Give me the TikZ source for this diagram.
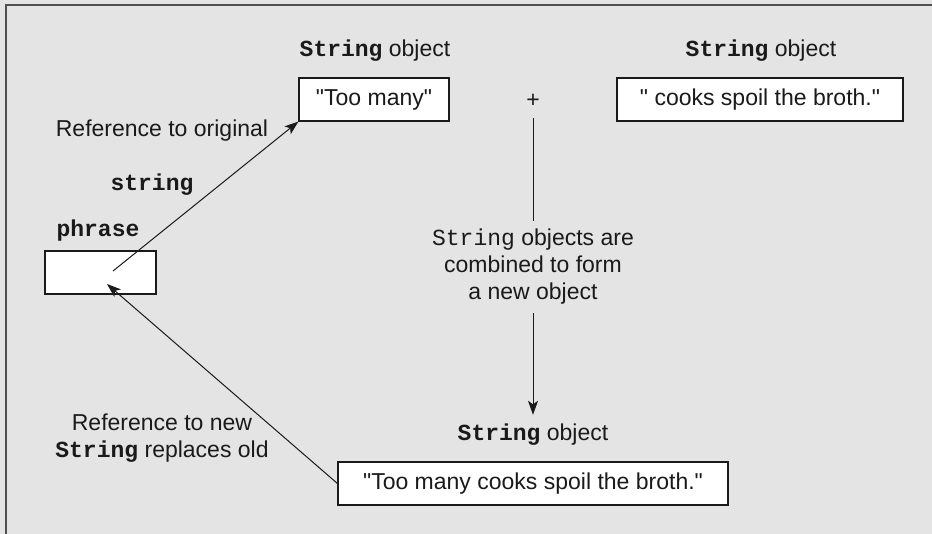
\documentclass[tikz,border=0pt]{standalone}
\usepackage{fontspec}
\setmainfont[Ligatures=TeXReset]{Liberation Sans}
\newfontfamily\monofont{Liberation Mono}
\usetikzlibrary{arrows.meta}
\definecolor{bgc}{HTML}{E4E4E4}
\definecolor{framec}{HTML}{505050}
\definecolor{inkc}{HTML}{1A1A1A}
\newcommand{\mb}[1]{{\monofont\bfseries #1}}
\newcommand{\mr}[1]{{\monofont #1}}
\newcommand{\dq}{\symbol{34}}
\begin{document}
\begin{tikzpicture}[x=1pt,y=-1pt,
  every node/.style={font=\fontsize{23}{27}\selectfont, text=inkc, inner sep=0pt},
  objbox/.style={draw=inkc, fill=white, line width=1.1pt, minimum height=43pt},
  conn/.style={draw=inkc, line width=1pt},
  arr/.style={conn, -{Stealth[length=14pt,width=10pt,inset=3.5pt]}}]
\useasboundingbox (0,0) rectangle (932,534);
\fill[bgc] (0,0) rectangle (932,534);
\draw[framec, line width=2.2pt] (6,534) -- (6,5) -- (932,5);

% top labels
\node (lab1) at (375,51) {\mb{String} object};
\node (lab2) at (761,51) {\mb{String} object};

% boxes
\node[objbox, minimum width=150pt] (too) at (374,99.5) {\dq Too many\dq};
\node[objbox, minimum width=286pt] (cooks) at (760,99.5) {\dq\ cooks spoil the broth.\dq};
\node (plus) at (533,101) [minimum height=34pt] {+};

% phrase variable
\node (reforig) at (162,131) {Reference to original};
\node (strlab) at (152,185) {\mb{string}};
\node (phrlab) at (98,231) {\mb{phrase}};
\node[objbox, minimum width=111pt] (phrase) at (100.5,272.5) {};
\coordinate (pstart) at (113,271);
\coordinate (pend) at (107,284);

% middle text
\node[align=center, minimum height=92pt] (mid) at (533,267)
  {\mr{String} objects are\\combined to form\\a new object};

% bottom
\node[minimum height=40pt] (lab3) at (533,435) {\mb{String} object};
\node[objbox, minimum width=390pt] (result) at (533,483.5) {\dq Too many cooks spoil the broth.\dq};
\node[align=center] (refnew) at (162,438) {Reference to new\\\mb{String} replaces old};

% connectors
\draw[arr] (pstart) -- (too.south west);
\draw[conn] (plus.south) -- (mid.north);
\draw[arr] (mid.south) -- (lab3.north);
\draw[arr] (result.west) -- (pend);
\end{tikzpicture}
\end{document}
